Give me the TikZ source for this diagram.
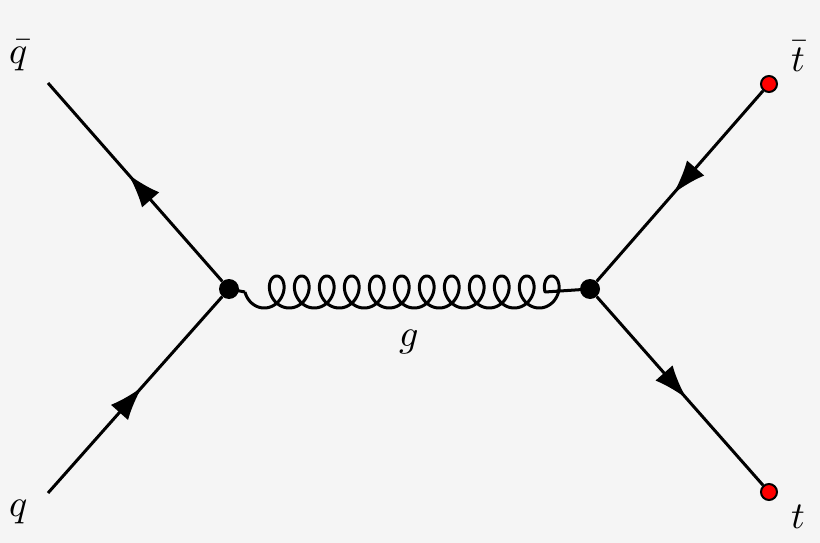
\documentclass[tikz,border=0pt]{standalone}
\usepackage{unicode-math}
\setmathfont{Latin Modern Math}
\usetikzlibrary{decorations.markings,arrows.meta}
\begin{document}
\begin{tikzpicture}[x=1pt,y=-1pt,
  fermion/.style={line width=3pt,postaction={decorate},decoration={markings,mark=at position 0.54 with {\arrow{Latex[length=34pt,width=23pt]}}}},
  vtx/.style={circle,fill=black,inner sep=0pt,minimum size=20pt},
  ext/.style={circle,fill=red,draw=black,line width=2pt,inner sep=0pt,minimum size=16pt},
  lab/.style={inner sep=0pt,font=\fontsize{38}{42}\selectfont}]
\fill[gray!8] (0,0) rectangle (820,543);
\useasboundingbox (0,0) rectangle (820,543);
\node[vtx] (L) at (229,289) {};
\node[vtx] (R) at (590,289) {};
\coordinate (qb) at (48,83);
\coordinate (q) at (48,493);
\node[ext] (tb) at (769,84) {};
\node[ext] (t) at (769,492) {};
\coordinate (g1) at (245,292);
\draw[fermion] (q) -- (L);
\draw[fermion] (L) -- (qb);
\draw[fermion] (tb) -- (R);
\draw[fermion] (R) -- (t);
\draw[line width=3pt,line join=round] (L.center) -- (g1)
  plot[domain=-90:4230,samples=700,smooth] ({264.25+0.0694444*\x+13*sin(\x)},{292+16*cos(\x)})
  -- (R.center);
\node[lab] (lqb) at (19,55) {$\bar q$};
\node[lab] (lq) at (19,512) {$q$};
\node[lab] (ltb) at (798,56) {$\bar t$};
\node[lab] (lt) at (798,517) {$t$};
\node[lab] (lg) at (409,342) {$g$};
\end{tikzpicture}
\end{document}
